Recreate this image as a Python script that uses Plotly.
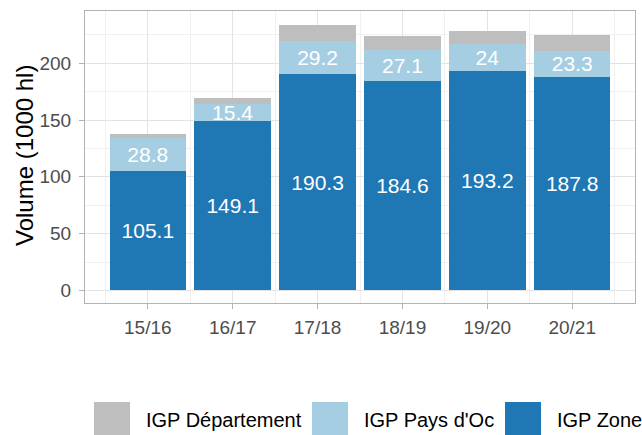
"""
Stacked bar chart of IGP volumes per campaign
"""
import plotly.graph_objects as go

# Data
seasons = ["15/16", "16/17", "17/18", "18/19", "19/20", "20/21"]
igp_zone = [105.1, 149.1, 190.3, 184.6, 193.2, 187.8]
igp_pays_oc = [28.8, 15.4, 29.2, 27.1, 24, 23.3]
igp_departement = [4.0, 5.2, 14.6, 12.4, 11.6, 13.7]

series_names = ["IGP Zone", "IGP Pays d'Oc", "IGP Département"]
series_colors = ["#1F78B4", "#A6CEE3", "#BEBEBE"]

FONT = "Liberation Sans, Arial, sans-serif"

# panel position in pixels (used for the hand made legend and axis title)
W, H = 642, 435
PL, PR, PT, PB = 85, 635, 11, 303


def px_x(px):
    return (px - PL) / (PR - PL)


def px_y(py):
    return (PB - py) / (PB - PT)


x = list(range(len(seasons)))
fig = go.Figure()

for name, values, color, labelled in zip(
        series_names,
        [igp_zone, igp_pays_oc, igp_departement],
        series_colors,
        [True, True, False]):
    fig.add_trace(go.Bar(
        x=x,
        y=values,
        name=name,
        width=0.9,
        marker=dict(color=color, line=dict(width=0)),
        text=[f"{v:g}" for v in values] if labelled else None,
        textposition="inside" if labelled else "none",
        insidetextanchor="middle",
        textangle=0,
        constraintext="none",
        textfont=dict(family=FONT, size=21, color="white"),
        showlegend=False,
        hoverinfo="skip",
    ))

fig.update_layout(
    barmode="stack",
    width=W,
    height=H,
    margin=dict(l=PL, r=W - PR, t=PT, b=H - PB),
    plot_bgcolor="white",
    paper_bgcolor="white",
    font=dict(family=FONT),
    showlegend=False,
)

fig.update_xaxes(
    range=[-0.74, 5.74],
    tickvals=x,
    ticktext=seasons,
    tickfont=dict(size=19, color="#4D4D4D"),
    ticks="outside",
    ticklen=5,
    tickcolor="#B3B3B3",
    ticklabelstandoff=2,
    showgrid=True,
    gridcolor="#E3E3E3",
    gridwidth=1,
    minor=dict(tick0=0.5, dtick=1, showgrid=True, gridcolor="#F0F0F0", gridwidth=1),
    showline=True,
    linecolor="#B3B3B3",
    linewidth=1,
    mirror=True,
    zeroline=False,
)

fig.update_yaxes(
    range=[-11.1, 246],
    tickvals=[0, 50, 100, 150, 200],
    tickfont=dict(size=19, color="#4D4D4D"),
    ticks="outside",
    ticklen=5,
    tickcolor="#B3B3B3",
    ticklabelstandoff=4,
    showgrid=True,
    gridcolor="#E3E3E3",
    gridwidth=1,
    minor=dict(tick0=25, dtick=50, showgrid=True, gridcolor="#F0F0F0", gridwidth=1),
    showline=True,
    linecolor="#B3B3B3",
    linewidth=1,
    mirror=True,
    zeroline=False,
)

# y axis title placed by hand
fig.add_annotation(
    xref="paper", yref="paper", x=px_x(24), y=px_y(156),
    text="Volume (1000 hl)", textangle=-90, showarrow=False,
    xanchor="center", yanchor="middle",
    font=dict(family=FONT, size=24, color="black"),
)

# legend drawn by hand to get the large ggplot style keys
legend_order = [2, 1, 0]
key_left = [94, 312, 505]
text_left = [144, 362, 555]
for idx, kx, tx in zip(legend_order, key_left, text_left):
    fig.add_shape(
        type="rect", xref="paper", yref="paper",
        x0=px_x(kx), x1=px_x(kx + 36), y0=px_y(437), y1=px_y(402),
        fillcolor=series_colors[idx], line=dict(width=0),
    )
    fig.add_annotation(
        xref="paper", yref="paper", x=px_x(tx), y=px_y(420),
        text=series_names[idx], showarrow=False,
        xanchor="left", yanchor="middle",
        font=dict(family=FONT, size=20, color="black"),
    )

# drop the default body margin so the figure sits at the window's corner
fig.write_html(
    "out.html",
    config={"displayModeBar": False},
    post_script="document.body.style.margin = '0';",
)
